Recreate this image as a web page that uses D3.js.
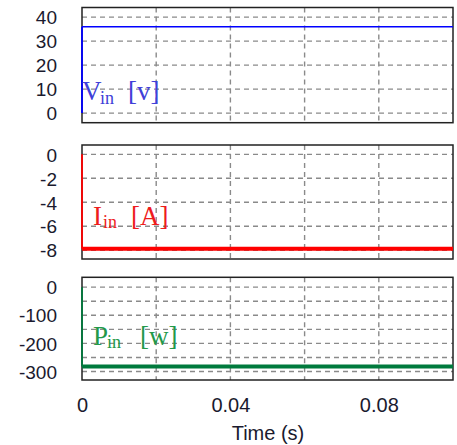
<!DOCTYPE html>
<html>
<head>
<meta charset="utf-8">
<script src="https://cdn.jsdelivr.net/npm/d3@7"></script>
<style>
  body { margin: 0; background: #fff; }
  svg { display: block; }
  .tick text { font-family: "Liberation Sans", Arial, sans-serif; fill: #1a1a2e; }
</style>
</head>
<body>
<div id="chart"></div>
<script>
// time axis (s)
const time = [0, 0, 0.1];
const timeTicks = [0, 0.04, 0.08];
const timeGrid = [0.02, 0.04, 0.06, 0.08];

// series
const vin = [0, 36, 36];
const iin = [0, -7.87, -7.87];
const pin = [0, -282, -282];

// y ticks / gridlines
const vinTicks = [0, 10, 20, 30, 40];
const iinTicks = [0, -2, -4, -6, -8];
const pinTicks = [0, -100, -200, -300];
const pinGrid = [0, -50, -100, -150, -200, -250, -300];

const W = 457, H = 445;
const left = 82, right = 453;

const panels = [
  { values: vin, ticks: vinTicks, grid: vinTicks, domain: [-4, 44], top: 7.5, bottom: 122.7,
    color: '#0000ff', textColor: '#4040d8', width: 1.6,
    label: { main: 'V', x: 82, y: 100, subX: 100, br: '[v]', brX: 128 } },
  { values: iin, ticks: iinTicks, grid: iinTicks, domain: [-8.73, 0.78], top: 145, bottom: 259,
    color: '#ff0000', textColor: '#ee1c1c', width: 4,
    label: { main: 'I', x: 93, y: 224.5, subX: 103, br: '[A]', brX: 131 } },
  { values: pin, ticks: pinTicks, grid: pinGrid, domain: [-330, 35], top: 277.3, bottom: 380,
    color: '#007a3d', textColor: '#23994a', width: 4,
    label: { main: 'P', x: 93, y: 344.7, subX: 107, br: '[w]', brX: 140 } }
];

const svg = d3.select('#chart').append('svg')
  .attr('width', W).attr('height', H);

svg.append('rect').attr('width', W).attr('height', H).attr('fill', '#fff');

const x = d3.scaleLinear().domain([0, 0.1]).range([left, right]);

panels.forEach((p) => {
  const y = d3.scaleLinear().domain(p.domain).range([p.bottom, p.top]);
  const g = svg.append('g');

  // horizontal grid
  g.selectAll('.hgrid').data(p.grid).enter().append('line')
    .attr('x1', left).attr('x2', right)
    .attr('y1', (d) => y(d)).attr('y2', (d) => y(d))
    .attr('stroke', '#8a8a8a').attr('stroke-width', 1.4)
    .attr('stroke-dasharray', '5,4');

  // vertical grid
  g.selectAll('.vgrid').data(timeGrid).enter().append('line')
    .attr('x1', (d) => x(d)).attr('x2', (d) => x(d))
    .attr('y1', p.top).attr('y2', p.bottom)
    .attr('stroke', '#8a8a8a').attr('stroke-width', 1.4)
    .attr('stroke-dasharray', '5,4');

  // y tick labels (plain hyphen minus like the original)
  const yAxis = d3.axisLeft(y).tickValues(p.ticks).tickSize(0).tickPadding(0)
    .tickFormat((d) => String(d));
  g.append('g')
    .attr('transform', 'translate(57,0)')
    .call(yAxis)
    .call((a) => a.select('.domain').remove())
    .selectAll('text')
    .attr('font-size', 19)
    .attr('dy', '6.7');

  // frame
  g.append('rect')
    .attr('x', left).attr('y', p.top)
    .attr('width', right - left).attr('height', p.bottom - p.top)
    .attr('fill', 'none').attr('stroke', '#222').attr('stroke-width', 1.5);

  // series: startup edge thin, steady state with panel width
  const pts = time.map((t, i) => [t, p.values[i]]);
  const line = d3.line().x((d) => x(d[0])).y((d) => y(d[1]));
  g.append('path').datum(pts.slice(0, 2))
    .attr('d', line).attr('fill', 'none')
    .attr('stroke', p.color).attr('stroke-width', 1.8);
  g.append('path').datum(pts.slice(1))
    .attr('d', line).attr('fill', 'none')
    .attr('stroke', p.color).attr('stroke-width', p.width);

  // label
  const L = p.label;
  const t = g.append('text')
    .attr('font-family', '"Liberation Serif", "Times New Roman", serif')
    .attr('fill', p.textColor);
  t.append('tspan').attr('x', L.x).attr('y', L.y).attr('font-size', 27).text(L.main);
  t.append('tspan').attr('x', L.subX).attr('y', L.y + 3.5).attr('font-size', 18).text('in');
  t.append('tspan').attr('x', L.brX).attr('y', L.y).attr('font-size', 27).text(L.br);
});

// x tick labels
const xAxis = d3.axisBottom(x).tickValues(timeTicks).tickSize(0).tickPadding(0)
  .tickFormat((d) => (d === 0 ? '0' : d3.format('.2f')(d)));
svg.append('g')
  .attr('transform', 'translate(0,397)')
  .call(xAxis)
  .call((a) => a.select('.domain').remove())
  .selectAll('text')
  .attr('font-size', 20)
  .attr('dy', '14.5');

svg.append('text')
  .attr('x', 268).attr('y', 440)
  .attr('text-anchor', 'middle')
  .attr('font-family', '"Liberation Sans", Arial, sans-serif')
  .attr('font-size', 20)
  .attr('fill', '#1a1a2e')
  .text('Time (s)');
</script>
</body>
</html>
